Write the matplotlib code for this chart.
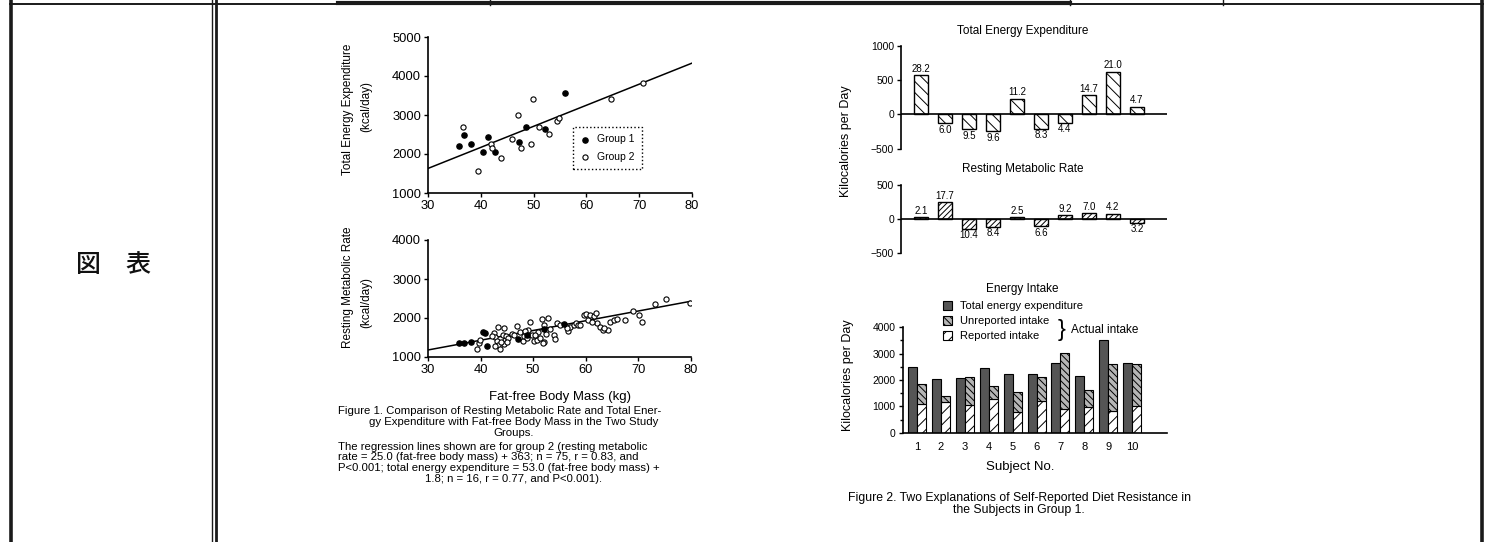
import numpy as np
import matplotlib.pyplot as plt
from matplotlib.patches import Patch

W, H = 1485, 542

plt.rcParams['font.family'] = ['Liberation Sans', 'DejaVu Sans']
plt.rcParams['hatch.linewidth'] = 0.7
plt.rcParams['axes.linewidth'] = 1.2
plt.rcParams['axes.facecolor'] = 'none'

# ---- Figure 1 data ----
# total energy expenditure vs fat-free mass
ffm_g1_tee = [35.8, 36.8, 38.1, 40.4, 41.3, 42.7, 47.2, 48.6, 52.1, 55.9]
tee_g1 = [2200, 2500, 2250, 2040, 2430, 2050, 2300, 2700, 2640, 3560]
ffm_g2_tee = [36.7, 39.4, 41.9, 42.1, 43.8, 46.0, 47.1, 47.7, 49.5, 49.9,
              51.0, 52.9, 54.4, 54.9, 64.7, 70.8]
tee_g2 = [2690, 1570, 2250, 2150, 1910, 2380, 3000, 2150, 2250, 3420,
          2690, 2520, 2840, 2920, 3420, 3820]
tee_fit_x = [30, 80]
tee_fit_y = [1630, 4330]

# resting metabolic rate vs fat-free mass
ffm_g1_rmr = [35.8, 36.8, 38.1, 40.4, 41.2, 40.9, 47.2, 48.9, 52.1, 55.8]
rmr_g1 = [1370, 1350, 1380, 1650, 1290, 1610, 1460, 1570, 1720, 1840]
ffm_g2_rmr = [39.3, 39.7, 42.6, 42.8, 43.1, 43.4, 43.7, 42.8, 44.2, 44.6,
              44.9, 44.4, 43.4, 44.5, 45.3, 46.0, 46.9, 47.4, 48.0, 48.2,
              48.8, 49.1, 49.3, 49.7, 50.1, 50.7, 51.0, 51.3, 51.6, 52.0,
              52.1, 52.8, 53.1, 54.0, 54.5, 55.1, 56.7, 57.0, 57.7, 58.2,
              58.6, 59.6, 60.0, 60.5, 60.8, 61.5, 62.0, 62.2, 62.7, 63.2,
              64.3, 64.6, 65.4, 66.0, 67.5, 68.9, 70.2, 70.6, 73.2, 75.2,
              79.8, 39.9, 42.2, 43.9, 45.0, 46.4, 48.5, 50.4, 51.8, 52.4,
              54.2, 56.4, 58.9, 61.1, 63.5]
rmr_g2 = [1210, 1360, 1610, 1500, 1420, 1310, 1210, 1270, 1570, 1440,
          1530, 1340, 1770, 1740, 1490, 1590, 1800, 1640, 1420, 1530,
          1490, 1700, 1910, 1570, 1420, 1440, 1640, 1490, 1980, 1380,
          1830, 2010, 1720, 1570, 1870, 1830, 1670, 1780, 1830, 1860,
          1810, 2070, 2100, 1950, 2070, 2040, 2130, 1870, 1780, 1690,
          1690, 1900, 1950, 1980, 1940, 2180, 2070, 1910, 2360, 2490,
          2380, 1440, 1530, 1380, 1380, 1570, 1670, 1570, 1350, 1590,
          1470, 1740, 1830, 1910, 1740]
rmr_fit_x = [30, 80]
rmr_fit_y = [1180, 2430]

# ---- Figure 2 data ----
subjects = np.arange(1, 11)
tee_diff = [570, -130, -220, -250, 230, -215, -120, 280, 620, 110]
tee_pct = ['28.2', '6.0', '9.5', '9.6', '11.2', '8.3', '4.4', '14.7', '21.0', '4.7']
rmr_diff = [25, 245, -140, -115, 30, -105, 55, 85, 80, -55]
rmr_pct = ['2.1', '17.7', '10.4', '8.4', '2.5', '6.6', '9.2', '7.0', '4.2', '3.2']
intake_tee = [2500, 2050, 2060, 2470, 2230, 2240, 2650, 2150, 3520, 2660]
intake_actual = [1830, 1400, 2130, 1770, 1530, 2110, 3010, 1620, 2600, 2620]
intake_reported = [1090, 1150, 1050, 1270, 800, 1220, 890, 960, 840, 1010]

fig = plt.figure(figsize=(W / 100, H / 100), dpi=100, facecolor='white')

# background layer in pixel units for the table frame and captions
bg = fig.add_axes([0, 0, 1, 1])
bg.set_xlim(0, W)
bg.set_ylim(H, 0)
bg.axis('off')


def px_axes(x0, y0, x1, y1):
    return fig.add_axes([x0 / W, 1 - y1 / H, (x1 - x0) / W, (y1 - y0) / H])


# ---- table frame ----
k = '#1a1a1a'
bg.plot([10.5, 10.5], [0, H], color=k, lw=2.6)
bg.plot([211.5, 211.5], [0, H], color=k, lw=1.0)
bg.plot([216, 216], [0, H], color=k, lw=2.0)
bg.plot([1482, 1482], [0, H], color=k, lw=2.6)
bg.plot([10, 1483], [4, 4], color=k, lw=1.4)
bg.plot([338, 1070], [2.5, 2.5], color=k, lw=3.0)
for xt in (490, 1070, 1223):
    bg.plot([xt, xt], [0, 5], color=k, lw=1.0)

bg.text(114, 265, '図\u3000表', fontsize=18, ha='center', va='center',
        family=['Noto Sans CJK JP', 'DejaVu Sans'], fontweight='medium',
        color='#111111')


def style_scatter(ax):
    for s in ('top', 'right'):
        ax.spines[s].set_visible(False)
    ax.tick_params(direction='out', length=3, width=1, labelsize=9.3, pad=2)


# ---- Figure 1 top: total energy expenditure ----
ax1 = px_axes(428, 37, 692, 193)
ax1.plot(tee_fit_x, tee_fit_y, color='black', lw=1.1)
ax1.scatter(ffm_g1_tee, tee_g1, s=14, color='black', zorder=3, label='Group 1')
ax1.scatter(ffm_g2_tee, tee_g2, s=14, facecolor='white', edgecolor='black',
            linewidth=0.8, zorder=3, label='Group 2')
ax1.set_xlim(30, 80)
ax1.set_ylim(1000, 5000)
ax1.set_xticks([30, 40, 50, 60, 70, 80])
ax1.set_yticks([1000, 2000, 3000, 4000, 5000])
style_scatter(ax1)
leg = ax1.legend(loc='lower left', bbox_to_anchor=(0.55, 0.155), fontsize=7.5,
                 handlelength=0.8, handletextpad=0.8, borderpad=0.7,
                 labelspacing=0.7, fancybox=False, framealpha=1,
                 edgecolor='black', borderaxespad=0)
leg.get_frame().set_linestyle(':')
leg.get_frame().set_linewidth(1.0)

bg.text(348, 109, 'Total Energy Expenditure', rotation=90, ha='center',
        va='center', fontsize=8.5)
bg.text(366, 107, '(kcal/day)', rotation=90, ha='center', va='center', fontsize=8.5)

# ---- Figure 1 bottom: resting metabolic rate ----
ax2 = px_axes(428, 240, 691, 357)
ax2.plot(rmr_fit_x, rmr_fit_y, color='black', lw=1.1)
ax2.scatter(ffm_g2_rmr, rmr_g2, s=14, facecolor='white', edgecolor='black',
            linewidth=0.8, zorder=3)
ax2.scatter(ffm_g1_rmr, rmr_g1, s=14, color='black', zorder=4)
ax2.set_xlim(30, 80)
ax2.set_ylim(1000, 4000)
ax2.set_xticks([30, 40, 50, 60, 70, 80])
ax2.set_yticks([1000, 2000, 3000, 4000])
style_scatter(ax2)

bg.text(348, 287, 'Resting Metabolic Rate', rotation=90, ha='center',
        va='center', fontsize=8.5)
bg.text(366, 303, '(kcal/day)', rotation=90, ha='center', va='center', fontsize=8.5)
bg.text(560, 397, 'Fat-free Body Mass (kg)', ha='center', va='center', fontsize=9.5)

# Figure 1 caption
cap = dict(fontsize=8.2, va='center')
bg.text(338, 411, 'Figure 1. Comparison of Resting Metabolic Rate and Total Ener-', ha='left', **cap)
bg.text(514, 422, 'gy Expenditure with Fat-free Body Mass in the Two Study', ha='center', **cap)
bg.text(514, 432.5, 'Groups.', ha='center', **cap)
bg.text(338, 447, 'The regression lines shown are for group 2 (resting metabolic', ha='left', **cap)
bg.text(338, 457.5, 'rate = 25.0 (fat-free body mass) + 363; n = 75, r = 0.83, and', ha='left', **cap)
bg.text(338, 468, 'P<0.001; total energy expenditure = 53.0 (fat-free body mass) +', ha='left', **cap)
bg.text(514, 479, '1.8; n = 16, r = 0.77, and P<0.001).', ha='center', **cap)


def style_bars(ax):
    for s in ('top', 'right', 'bottom'):
        ax.spines[s].set_visible(False)
    ax.set_xticks([])
    ax.tick_params(axis='y', direction='out', length=3, width=1, labelsize=7.5, pad=2)
    ax.axhline(0, color='black', lw=1.2)


def label_bars(ax, vals, texts, off):
    for x, v, t in zip(subjects, vals, texts):
        if v >= 0:
            ax.annotate(t, (x, v), xytext=(0, off), textcoords='offset points',
                        ha='center', va='bottom', fontsize=7)
        else:
            ax.annotate(t, (x, v), xytext=(0, -off), textcoords='offset points',
                        ha='center', va='top', fontsize=7)


# ---- Figure 2 top: total energy expenditure difference ----
ax3 = px_axes(901, 45.7, 1167, 148.6)
ax3.bar(subjects, tee_diff, width=0.55, facecolor='white', edgecolor='black',
        linewidth=1.0, hatch='\\\\\\')
ax3.set_xlim(0.167, 11.25)
ax3.set_ylim(-500, 1000)
ax3.set_yticks([-500, 0, 500, 1000])
style_bars(ax3)
label_bars(ax3, tee_diff, tee_pct, 1)
bg.text(1023, 31, 'Total Energy Expenditure', ha='center', va='center', fontsize=8.5)

# ---- Figure 2 middle: resting metabolic rate difference ----
ax4 = px_axes(901, 185, 1167, 253.3)
ax4.bar(subjects, rmr_diff, width=0.55, facecolor='white', edgecolor='black',
        linewidth=1.0, hatch='//////')
ax4.set_xlim(0.167, 11.25)
ax4.set_ylim(-500, 500)
ax4.set_yticks([-500, 0, 500])
style_bars(ax4)
label_bars(ax4, rmr_diff, rmr_pct, 1)
bg.text(1023, 169, 'Resting Metabolic Rate', ha='center', va='center', fontsize=8.5)
bg.text(846, 141, 'Kilocalories per Day', rotation=90, ha='center', va='center', fontsize=9)

# ---- Figure 2 bottom: energy intake ----
ax5 = px_axes(902.7, 327.3, 1167, 432.7)
bw = 0.377
ax5.bar(subjects - bw / 2, intake_tee, width=bw, facecolor='#555555',
        edgecolor='black', linewidth=0.8)
unrep = [a - r for a, r in zip(intake_actual, intake_reported)]
ax5.bar(subjects + bw / 2, intake_reported, width=bw, facecolor='white',
        edgecolor='black', linewidth=0.8, hatch='///')
ax5.bar(subjects + bw / 2, unrep, bottom=intake_reported, width=bw,
        facecolor='#b5b5b5', edgecolor='black', linewidth=0.8, hatch='\\\\\\\\\\')
ax5.set_xlim(0.40, 11.46)
ax5.set_ylim(0, 4000)
ax5.set_yticks([0, 1000, 2000, 3000, 4000])
ax5.set_yticks(np.arange(500, 4000, 1000), minor=True)
ax5.set_xticks(subjects)
for s in ('top', 'right'):
    ax5.spines[s].set_visible(False)
ax5.tick_params(axis='y', which='both', direction='out', width=1, labelsize=7.5, pad=2)
ax5.tick_params(axis='y', which='major', length=3)
ax5.tick_params(axis='y', which='minor', length=2)
ax5.tick_params(axis='x', length=0, labelsize=8, pad=7)

handles = [Patch(facecolor='#555555', edgecolor='black', linewidth=0.8),
           Patch(facecolor='#b5b5b5', edgecolor='black', linewidth=0.8, hatch='\\\\\\\\\\'),
           Patch(facecolor='white', edgecolor='black', linewidth=0.8, hatch='///')]
fig.legend(handles, ['Total energy expenditure', 'Unreported intake', 'Reported intake'],
           loc='upper left', bbox_to_anchor=(943 / W, 1 - 301 / H), frameon=False,
           fontsize=8, handlelength=0.8, handleheight=0.8, handletextpad=0.7,
           labelspacing=0.45, borderpad=0, borderaxespad=0)
bg.text(1062, 330, '}', ha='center', va='center', fontsize=17)
bg.text(1071, 330, 'Actual intake', ha='left', va='center', fontsize=8.5)
bg.text(1022, 289, 'Energy Intake', ha='center', va='center', fontsize=8.5)
bg.text(848, 375, 'Kilocalories per Day', rotation=90, ha='center', va='center', fontsize=9)
bg.text(1020, 467, 'Subject No.', ha='center', va='center', fontsize=9.5)

bg.text(1019, 498, 'Figure 2. Two Explanations of Self-Reported Diet Resistance in',
        ha='center', va='center', fontsize=8.8)
bg.text(1019, 510, 'the Subjects in Group 1.', ha='center', va='center', fontsize=8.8)

fig.savefig('out.png', dpi=100, facecolor='white')
